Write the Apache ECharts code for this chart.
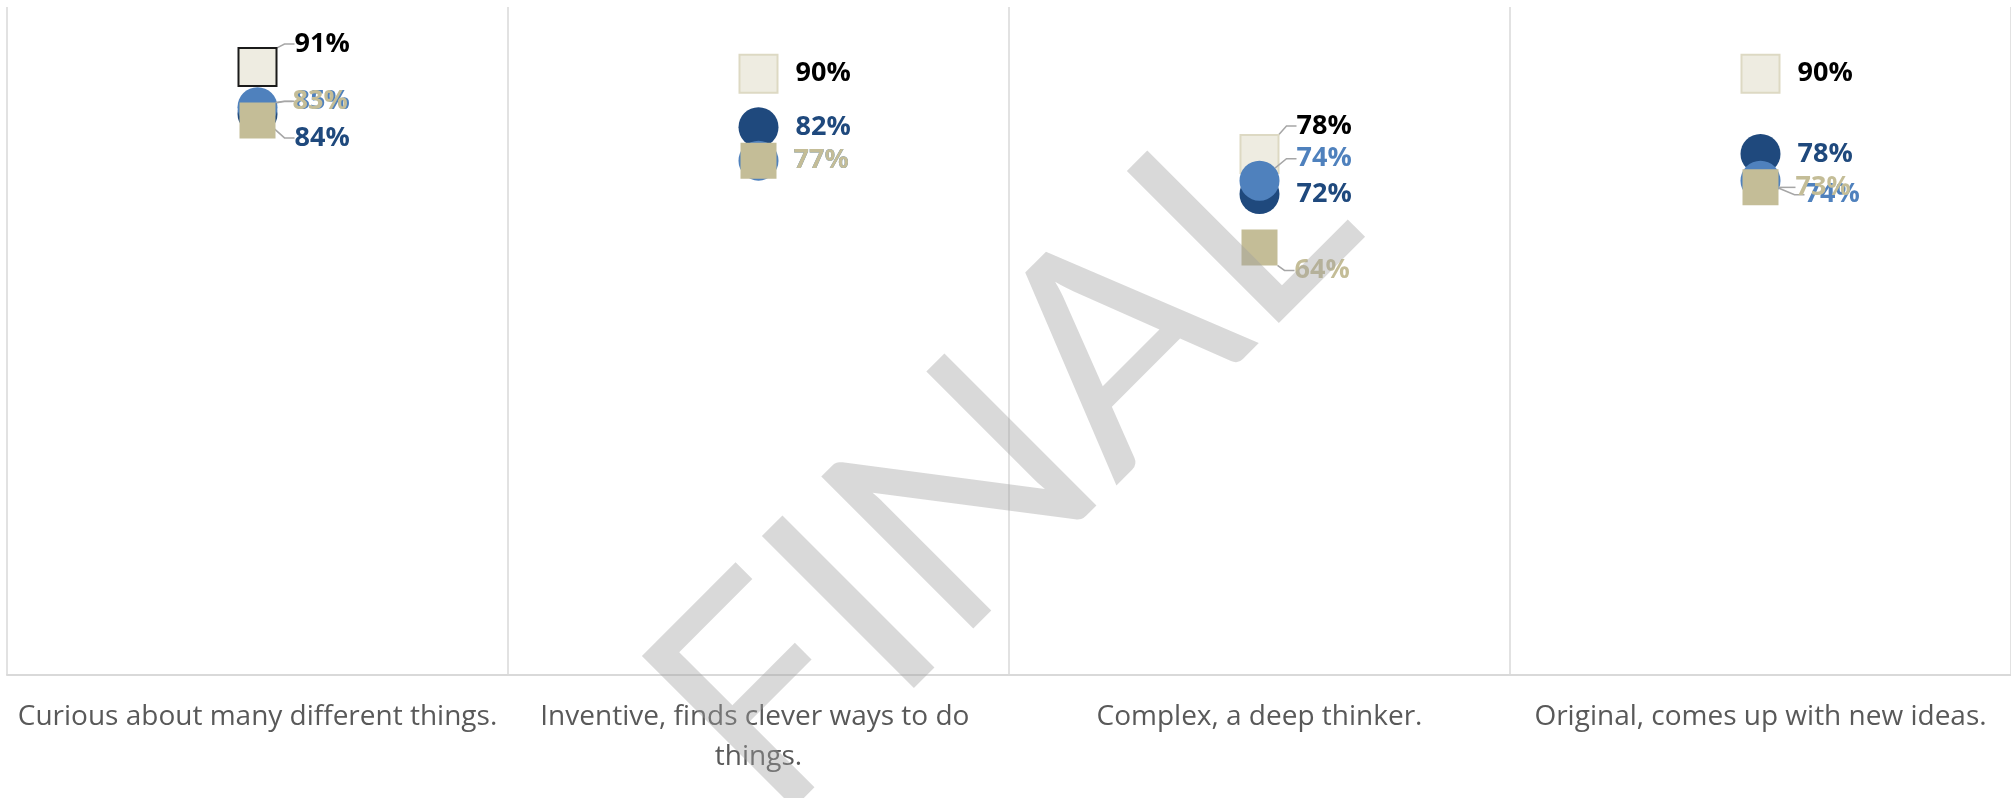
<!DOCTYPE html>
<html><head><meta charset="utf-8">
<script src="https://cdn.jsdelivr.net/npm/echarts@6/dist/echarts.min.js"></script>
<style>html,body{margin:0;padding:0;background:#fff}#c{width:2011px;height:798px}</style>
</head><body><div id="c"></div>
<script>
// ---- data ----
const categories = [
  'Curious about many different things.',
  'Inventive, finds clever ways to do things.',
  'Complex, a deep thinker.',
  'Original, comes up with new ideas.'
];
const seriesNames = ['Series 1', 'Series 2', 'Series 3', 'Series 4'];
const beigeValues = [91, 90, 78, 90];
const darkBlueValues = [84, 82, 72, 78];
const lightBlueValues = [85, 77, 74, 74];
const tanValues = [83, 77, 64, 73];

// ---- label placement (styling, px) ----
const labelOffsets = [
  [[0, -23], [0, 0], [0, -28], [0, 0]],
  [[0, 24], [0, 0], [0, 0], [0, 0]],
  [[0, -6], [-2, 0], [0, -22], [7, 14]],
  [[0, -19], [0, 0], [0, 23], [0, 0]]
];
const labelLineFlags = [
  [true, false, true, false],
  [true, false, false, false],
  [true, false, true, true],
  [true, false, true, true]
];

const chart = echarts.init(document.getElementById('c'), null, {renderer: 'canvas'});
const FONT = "'Open Sans', 'Noto Sans', sans-serif";

function mkSeries(idx, values, symbol, size, itemStyle, labelColor, itemOverrides) {
  return {
    name: seriesNames[idx],
    type: 'scatter',
    symbol: symbol,
    symbolSize: size,
    z: 2 + idx,
    itemStyle: Object.assign({opacity: 1}, itemStyle),
    emphasis: {disabled: true},
    label: {
      show: true, position: 'right', distance: 17,
      formatter: '{c}%', color: labelColor,
      fontFamily: FONT, fontSize: 27, fontWeight: 'bold'
    },
    labelLine: {show: false, length2: 10, lineStyle: {color: '#A6A6A6', width: 1.5}},
    labelLayout: function (p) {
      const o = labelOffsets[idx][p.dataIndex];
      return {dx: o[0], dy: o[1]};
    },
    data: values.map(function (v, i) {
      const d = {value: v, labelLine: {show: labelLineFlags[idx][i], length2: 10, lineStyle: {color: '#A6A6A6', width: 1.5}}};
      if (itemOverrides && itemOverrides[i]) d.itemStyle = Object.assign({opacity: 1}, itemOverrides[i]);
      return d;
    })
  };
}

const option = {
  animation: false,
  backgroundColor: '#ffffff',
  grid: {left: 7, top: 7, width: 2012, height: 668, containLabel: false},
  xAxis: {
    type: 'category',
    data: categories,
    boundaryGap: true,
    axisTick: {show: false},
    axisLine: {lineStyle: {color: '#D9D9D9', width: 2}},
    splitLine: {show: true, lineStyle: {color: '#D9D9D9', width: 1.5}},
    axisLabel: {
      interval: 0, color: '#595959', fontFamily: FONT, fontSize: 28,
      margin: 22, width: 495, overflow: 'break', lineHeight: 40
    }
  },
  yAxis: {type: 'value', min: 0, max: 100, show: false, splitLine: {show: false}},
  series: [
    mkSeries(0, beigeValues, 'rect', 38,
      {color: '#EEECE1', borderColor: '#DDD9C3', borderWidth: 2}, '#000000',
      [{color: '#EEECE1', borderColor: '#1a1a1a', borderWidth: 2}]),
    mkSeries(1, darkBlueValues, 'circle', 40, {color: '#1F497D'}, '#1F497D'),
    mkSeries(2, lightBlueValues, 'circle', 40, {color: '#4F81BD'}, '#4F81BD'),
    mkSeries(3, tanValues, 'rect', 36, {color: '#C4BD97'}, '#C4BD97')
  ],
  graphic: [{
    type: 'text',
    x: 1003, y: 462,
    rotation: Math.PI / 4,
    z: 100,
    silent: true,
    style: {
      text: 'FINAL',
      font: "normal 300px Lato, 'Open Sans', sans-serif",
      fill: 'rgba(160,160,160,0.4)',
      textAlign: 'center',
      textVerticalAlign: 'middle'
    }
  }]
};
chart.setOption(option);
</script>
</body></html>
